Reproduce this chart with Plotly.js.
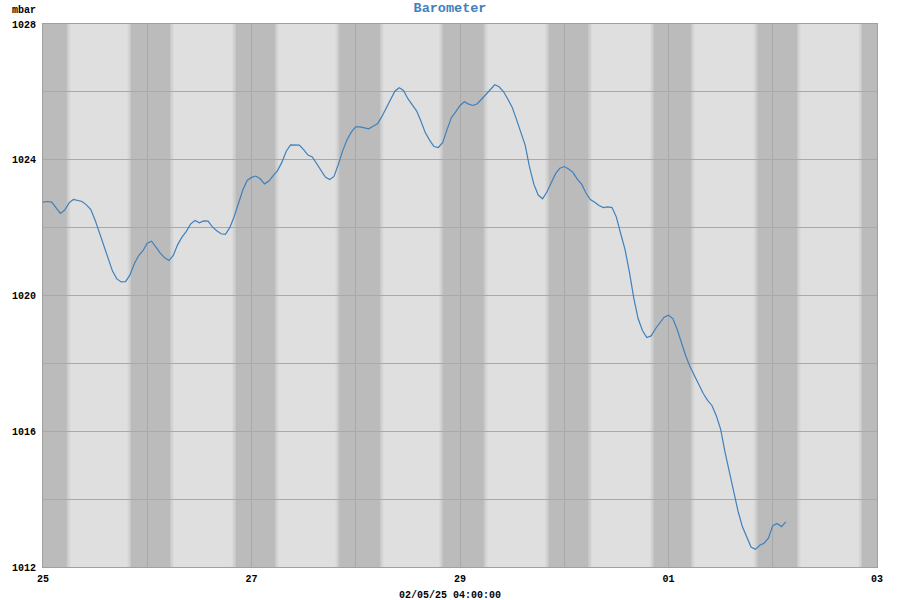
<!DOCTYPE html>
<html>
<head>
<meta charset="utf-8">
<script src="https://cdn.plot.ly/plotly-3.0.1.min.js"></script>
<style>html,body{margin:0;padding:0;background:#fff;}#chart{width:900px;height:600px;}</style>
</head>
<body>
<div id="chart"></div>
<script>
// Hourly barometer readings (mbar) starting 2025-04-25 00:00
const startDate = '2025-04-25';
const pressure = [
1022.75,1022.77,1022.75,1022.58,1022.42,1022.52,1022.73,1022.83,1022.80,1022.77,
1022.67,1022.53,1022.22,1021.86,1021.49,1021.08,1020.72,1020.49,1020.40,1020.41,
1020.60,1020.93,1021.17,1021.32,1021.54,1021.60,1021.41,1021.25,1021.11,1021.03,
1021.18,1021.50,1021.72,1021.89,1022.11,1022.21,1022.14,1022.20,1022.19,1022.02,
1021.91,1021.82,1021.80,1022.00,1022.32,1022.70,1023.11,1023.39,1023.48,1023.52,
1023.44,1023.29,1023.37,1023.53,1023.68,1023.93,1024.25,1024.44,1024.43,1024.43,
1024.30,1024.14,1024.08,1023.88,1023.66,1023.49,1023.42,1023.51,1023.87,1024.27,
1024.59,1024.82,1024.97,1024.97,1024.94,1024.91,1024.99,1025.06,1025.27,1025.52,
1025.81,1026.02,1026.12,1026.04,1025.80,1025.62,1025.44,1025.14,1024.80,1024.58,
1024.39,1024.36,1024.50,1024.88,1025.24,1025.41,1025.60,1025.71,1025.64,1025.60,
1025.65,1025.79,1025.93,1026.08,1026.21,1026.15,1026.01,1025.79,1025.55,1025.19,
1024.83,1024.43,1023.79,1023.28,1022.96,1022.85,1023.05,1023.34,1023.59,1023.75,
1023.80,1023.73,1023.63,1023.43,1023.28,1023.02,1022.83,1022.75,1022.65,1022.59,
1022.61,1022.59,1022.31,1021.82,1021.35,1020.69,1019.93,1019.32,1018.97,1018.76,
1018.81,1019.02,1019.20,1019.36,1019.42,1019.32,1019.00,1018.57,1018.21,1017.89,
1017.64,1017.37,1017.11,1016.91,1016.76,1016.46,1016.06,1015.39,1014.80,1014.22,
1013.65,1013.19,1012.88,1012.59,1012.52,1012.64,1012.70,1012.85,1013.22,1013.28,
1013.19,1013.33
];
// Night periods (sunset -> next sunrise)
const sunsets  = ['2025-04-24 20:25','2025-04-25 20:15','2025-04-26 20:20','2025-04-27 20:10','2025-04-28 20:00','2025-04-29 20:25','2025-04-30 20:35','2025-05-01 20:26','2025-05-02 20:33'];
const sunrises = ['2025-04-25 05:30','2025-04-26 05:15','2025-04-27 05:25','2025-04-28 05:35','2025-04-29 05:30','2025-04-30 05:35','2025-05-01 05:10','2025-05-02 05:35','2025-05-03 05:30'];
const xRange = ['2025-04-25 00:00','2025-05-03 00:00'];
const yTicks = [1012,1016,1020,1024,1028];
const xTitle = '02/05/25 04:00:00';

function pad(n){return (n<10?'0':'')+n;}
function fmt(ms){const d=new Date(ms);return d.getUTCFullYear()+'-'+pad(d.getUTCMonth()+1)+'-'+pad(d.getUTCDate())+' '+pad(d.getUTCHours())+':'+pad(d.getUTCMinutes());}
function parse(s){return Date.parse(s.replace(' ','T')+':00Z');}
const t0 = Date.parse(startDate+'T00:00:00Z');
const times = pressure.map((_,i)=>fmt(t0+i*3600e3));

const dayCol=[223,223,223], nightCol=[187,187,187];
function mix(f){return 'rgb('+dayCol.map((c,k)=>Math.round(c+(nightCol[k]-c)*f)).join(',')+')';}
const shapes=[];
const steps=5, stepMs=10*60e3;
sunsets.forEach((ss,i)=>{
  const a=parse(ss), b=parse(sunrises[i]);
  shapes.push({type:'rect',layer:'below',xref:'x',yref:'paper',x0:fmt(a),x1:fmt(b),y0:0,y1:1,fillcolor:mix(1),line:{width:0}});
  for(let s=0;s<steps;s++){
    const f=(steps-s)/(steps+1);
    shapes.push({type:'rect',layer:'below',xref:'x',yref:'paper',x0:fmt(a-(s+1)*stepMs),x1:fmt(a-s*stepMs),y0:0,y1:1,fillcolor:mix(f),line:{width:0}});
    shapes.push({type:'rect',layer:'below',xref:'x',yref:'paper',x0:fmt(b+s*stepMs),x1:fmt(b+(s+1)*stepMs),y0:0,y1:1,fillcolor:mix(f),line:{width:0}});
  }
});

const mono={family:'"Liberation Mono", "DejaVu Sans Mono", monospace',size:10,color:'#000',weight:'bold'};
const trace={x:times,y:pressure,type:'scatter',mode:'lines',line:{color:'#3f80bd',width:1.2},hoverinfo:'x+y'};
const layout={
  width:900,height:600,
  margin:{l:43,r:23,t:24,b:33,pad:0},
  paper_bgcolor:'#ffffff',plot_bgcolor:'rgb(223,223,223)',
  showlegend:false,
  font:mono,
  title:{text:'Barometer',x:0.5,xanchor:'center',yref:'container',y:0.988,yanchor:'middle',font:{family:mono.family,size:13.5,color:'#3f80bd',weight:'bold'}},
  xaxis:{type:'date',range:xRange,dtick:2*86400000,tick0:xRange[0],tickformat:'%d',
    showgrid:true,gridcolor:'#a9a9a9',gridwidth:1,
    minor:{dtick:86400000,tick0:xRange[0],showgrid:true,gridcolor:'#a9a9a9',gridwidth:1,ticks:''},
    showline:true,linecolor:'#a0a0a0',linewidth:1,mirror:true,ticks:'outside',ticklen:2,tickcolor:'#fff',
    tickfont:mono,zeroline:false},
  yaxis:{range:[1012,1028],tickvals:yTicks,ticktext:yTicks.map(String),
    showgrid:true,gridcolor:'#a9a9a9',gridwidth:1,
    minor:{dtick:2,tick0:1012,showgrid:true,gridcolor:'#a9a9a9',gridwidth:1,ticks:''},
    showline:true,linecolor:'#a0a0a0',linewidth:1,mirror:true,ticks:'outside',ticklen:4,tickcolor:'#fff',
    tickfont:mono,zeroline:false},
  shapes:shapes,
  annotations:[
    {text:'mbar',xref:'paper',yref:'paper',x:-0.04,y:1.0,xanchor:'left',yanchor:'bottom',yshift:6,showarrow:false,font:mono},
    {text:xTitle,xref:'paper',yref:'paper',x:0.488,y:0,xanchor:'center',yanchor:'middle',yshift:-28,showarrow:false,font:mono}
  ]
};
Plotly.newPlot('chart',[trace],layout,{displayModeBar:false,staticPlot:true});
</script>
</body>
</html>
